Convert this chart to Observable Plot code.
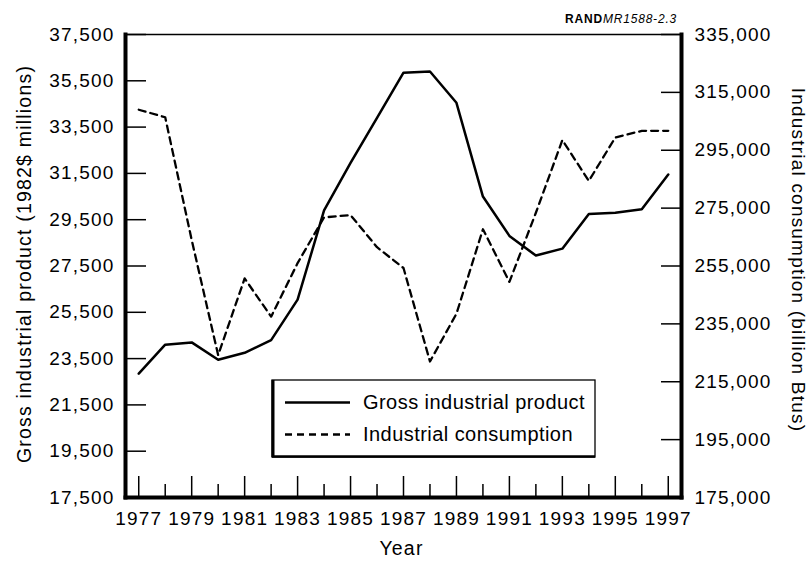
<!DOCTYPE html>
<html>
<head>
<meta charset="utf-8">
<script src="https://cdn.jsdelivr.net/npm/d3@7"></script>
<script src="https://cdn.jsdelivr.net/npm/@observablehq/plot@0.6"></script>
<style>
  html, body { margin: 0; padding: 0; background: #ffffff; }
  #chart { width: 812px; height: 561px; }
</style>
</head>
<body>
<div id="chart"></div>
<script>
// ---- data ----
const years = [1977, 1978, 1979, 1980, 1981, 1982, 1983, 1984, 1985, 1986, 1987,
               1988, 1989, 1990, 1991, 1992, 1993, 1994, 1995, 1996, 1997];
// Gross industrial product (1982$ millions) - left axis, solid line
const grossProduct = [22850, 24100, 24200, 23450, 23750, 24300, 26050, 29900, 31950, 33900, 35850,
                      35900, 34550, 30500, 28800, 27950, 28250, 29750, 29800, 29950, 31450];
// Industrial consumption (billion Btus) - right axis, dashed line
const consumption = [309000, 306400, 264000, 224200, 250700, 237500, 256000, 271800, 272600, 261500, 254300,
                     222000, 238500, 267700, 249500, 273400, 298500, 284400, 299400, 301700, 301700];

const leftTicks = [17500, 19500, 21500, 23500, 25500, 27500, 29500, 31500, 33500, 35500, 37500];
const rightTicks = [175000, 195000, 215000, 235000, 255000, 275000, 295000, 315000, 335000];
const majorYears = [1977, 1979, 1981, 1983, 1985, 1987, 1989, 1991, 1993, 1995, 1997];
const minorYears = [1978, 1980, 1982, 1984, 1986, 1988, 1990, 1992, 1994, 1996];

const seriesNames = ["Gross industrial product", "Industrial consumption"];
const leftTitle = "Gross industrial product (1982$ millions)";
const rightTitle = "Industrial consumption (billion Btus)";
const xTitle = "Year";
const noteBold = "RAND";
const noteItalic = "MR1588-2.3";

// ---- dual-axis mapping (right values onto the left scale) ----
const L0 = leftTicks[0], L1 = leftTicks[leftTicks.length - 1];
const R0 = rightTicks[0], R1 = rightTicks[rightTicks.length - 1];
const toLeft = v => L0 + (v - R0) * (L1 - L0) / (R1 - R0);
const fromLeft = v => Math.round(R0 + (v - L0) * (R1 - R0) / (L1 - L0));

const table = years.map((year, i) => ({year, gross: grossProduct[i], cons: consumption[i]}));
const fmt = d3.format(",");

const plot = Plot.plot({
  width: 812,
  height: 561,
  marginLeft: 125,
  marginRight: 131,
  marginTop: 34,
  marginBottom: 64,
  style: {
    fontFamily: "'Liberation Sans', Arial, Helvetica, sans-serif",
    fontSize: "19px",
    letterSpacing: "1.2px",
    color: "black",
    background: "white",
    overflow: "visible"
  },
  x: {domain: [years[0] - 0.5, years[years.length - 1] + 0.5]},
  y: {domain: [L0, L1]},
  marks: [
    // axis lines
    Plot.frame({anchor: "top", strokeWidth: 1.3}),
    Plot.frame({anchor: "left", strokeWidth: 4}),
    Plot.frame({anchor: "right", strokeWidth: 4}),
    Plot.frame({anchor: "bottom", strokeWidth: 4}),
    // left axis: inward ticks + labels
    Plot.axisY(leftTicks, {anchor: "left", tickSize: 21, dx: 21, fill: "none", label: null, strokeWidth: 1.5}),
    Plot.axisY(leftTicks, {anchor: "left", tickSize: 0, tickPadding: 11, tickFormat: fmt, label: null}),
    // right axis: inward ticks + labels
    Plot.axisY(rightTicks.map(toLeft), {anchor: "right", tickSize: 21, dx: -21, fill: "none", label: null, strokeWidth: 1.5}),
    Plot.axisY(rightTicks.map(toLeft), {anchor: "right", tickSize: 0, tickPadding: 13, tickFormat: d => fmt(fromLeft(d)), label: null}),
    // bottom axis: inward major/minor ticks + labels
    Plot.axisX(majorYears, {anchor: "bottom", tickSize: 21, dy: -21, fill: "none", label: null, strokeWidth: 1.5}),
    Plot.axisX(minorYears, {anchor: "bottom", tickSize: 13, dy: -13, fill: "none", label: null, strokeWidth: 1.5}),
    Plot.axisX(majorYears, {anchor: "bottom", tickSize: 0, tickPadding: 14, tickFormat: d3.format("d"), label: null}),
    // axis titles
    Plot.text([leftTitle], {frameAnchor: "left", textAnchor: "middle", text: d => d, rotate: -90, dx: -101, dy: -2, fontSize: 19.5}),
    Plot.text([rightTitle], {frameAnchor: "right", textAnchor: "middle", text: d => d, rotate: 90, dx: 117, dy: -6, fontSize: 19}),
    Plot.text([xTitle], {frameAnchor: "bottom", textAnchor: "middle", text: d => d, lineAnchor: "top", dy: 44, dx: -2, fontSize: 19.5}),
    // series
    Plot.line(table, {x: "year", y: "gross", stroke: "black", strokeWidth: 2.5}),
    Plot.line(table, {x: "year", y: d => toLeft(d.cons), stroke: "black", strokeWidth: 2.3, strokeDasharray: "7,5"})
  ]
});

document.getElementById("chart").appendChild(plot);

// ---- legend and source note ----
const svg = d3.select(plot);
const lg = svg.append("g").attr("class", "legend").attr("text-anchor", "start");
lg.append("rect").attr("x", 272).attr("y", 380).attr("width", 323).attr("height", 77)
  .attr("fill", "white").attr("stroke", "black").attr("stroke-width", 1.3);
lg.append("line").attr("x1", 273).attr("x2", 273).attr("y1", 380).attr("y2", 457)
  .attr("stroke", "black").attr("stroke-width", 3);
lg.append("line").attr("x1", 272).attr("x2", 595).attr("y1", 456.5).attr("y2", 456.5)
  .attr("stroke", "black").attr("stroke-width", 2.5);
const items = [
  {name: seriesNames[0], y: 402.5, dash: null, w: 2.5},
  {name: seriesNames[1], y: 434.5, dash: "7,5", w: 2.3}
];
items.forEach(it => {
  lg.append("line").attr("x1", 285).attr("x2", 350).attr("y1", it.y).attr("y2", it.y)
    .attr("stroke", "black").attr("stroke-width", it.w).attr("stroke-dasharray", it.dash);
  lg.append("text").attr("x", 363).attr("y", it.y + 6.5).attr("text-anchor", "start")
    .attr("font-size", 20).attr("letter-spacing", "0.45px").attr("fill", "black").text(it.name);
});
const note = svg.append("text").attr("x", 677).attr("y", 23).attr("text-anchor", "end")
  .attr("font-size", 12).attr("letter-spacing", "0.8px").attr("fill", "black");
note.append("tspan").attr("font-weight", "bold").text(noteBold);
note.append("tspan").attr("font-style", "italic").text(noteItalic);
</script>
</body>
</html>
